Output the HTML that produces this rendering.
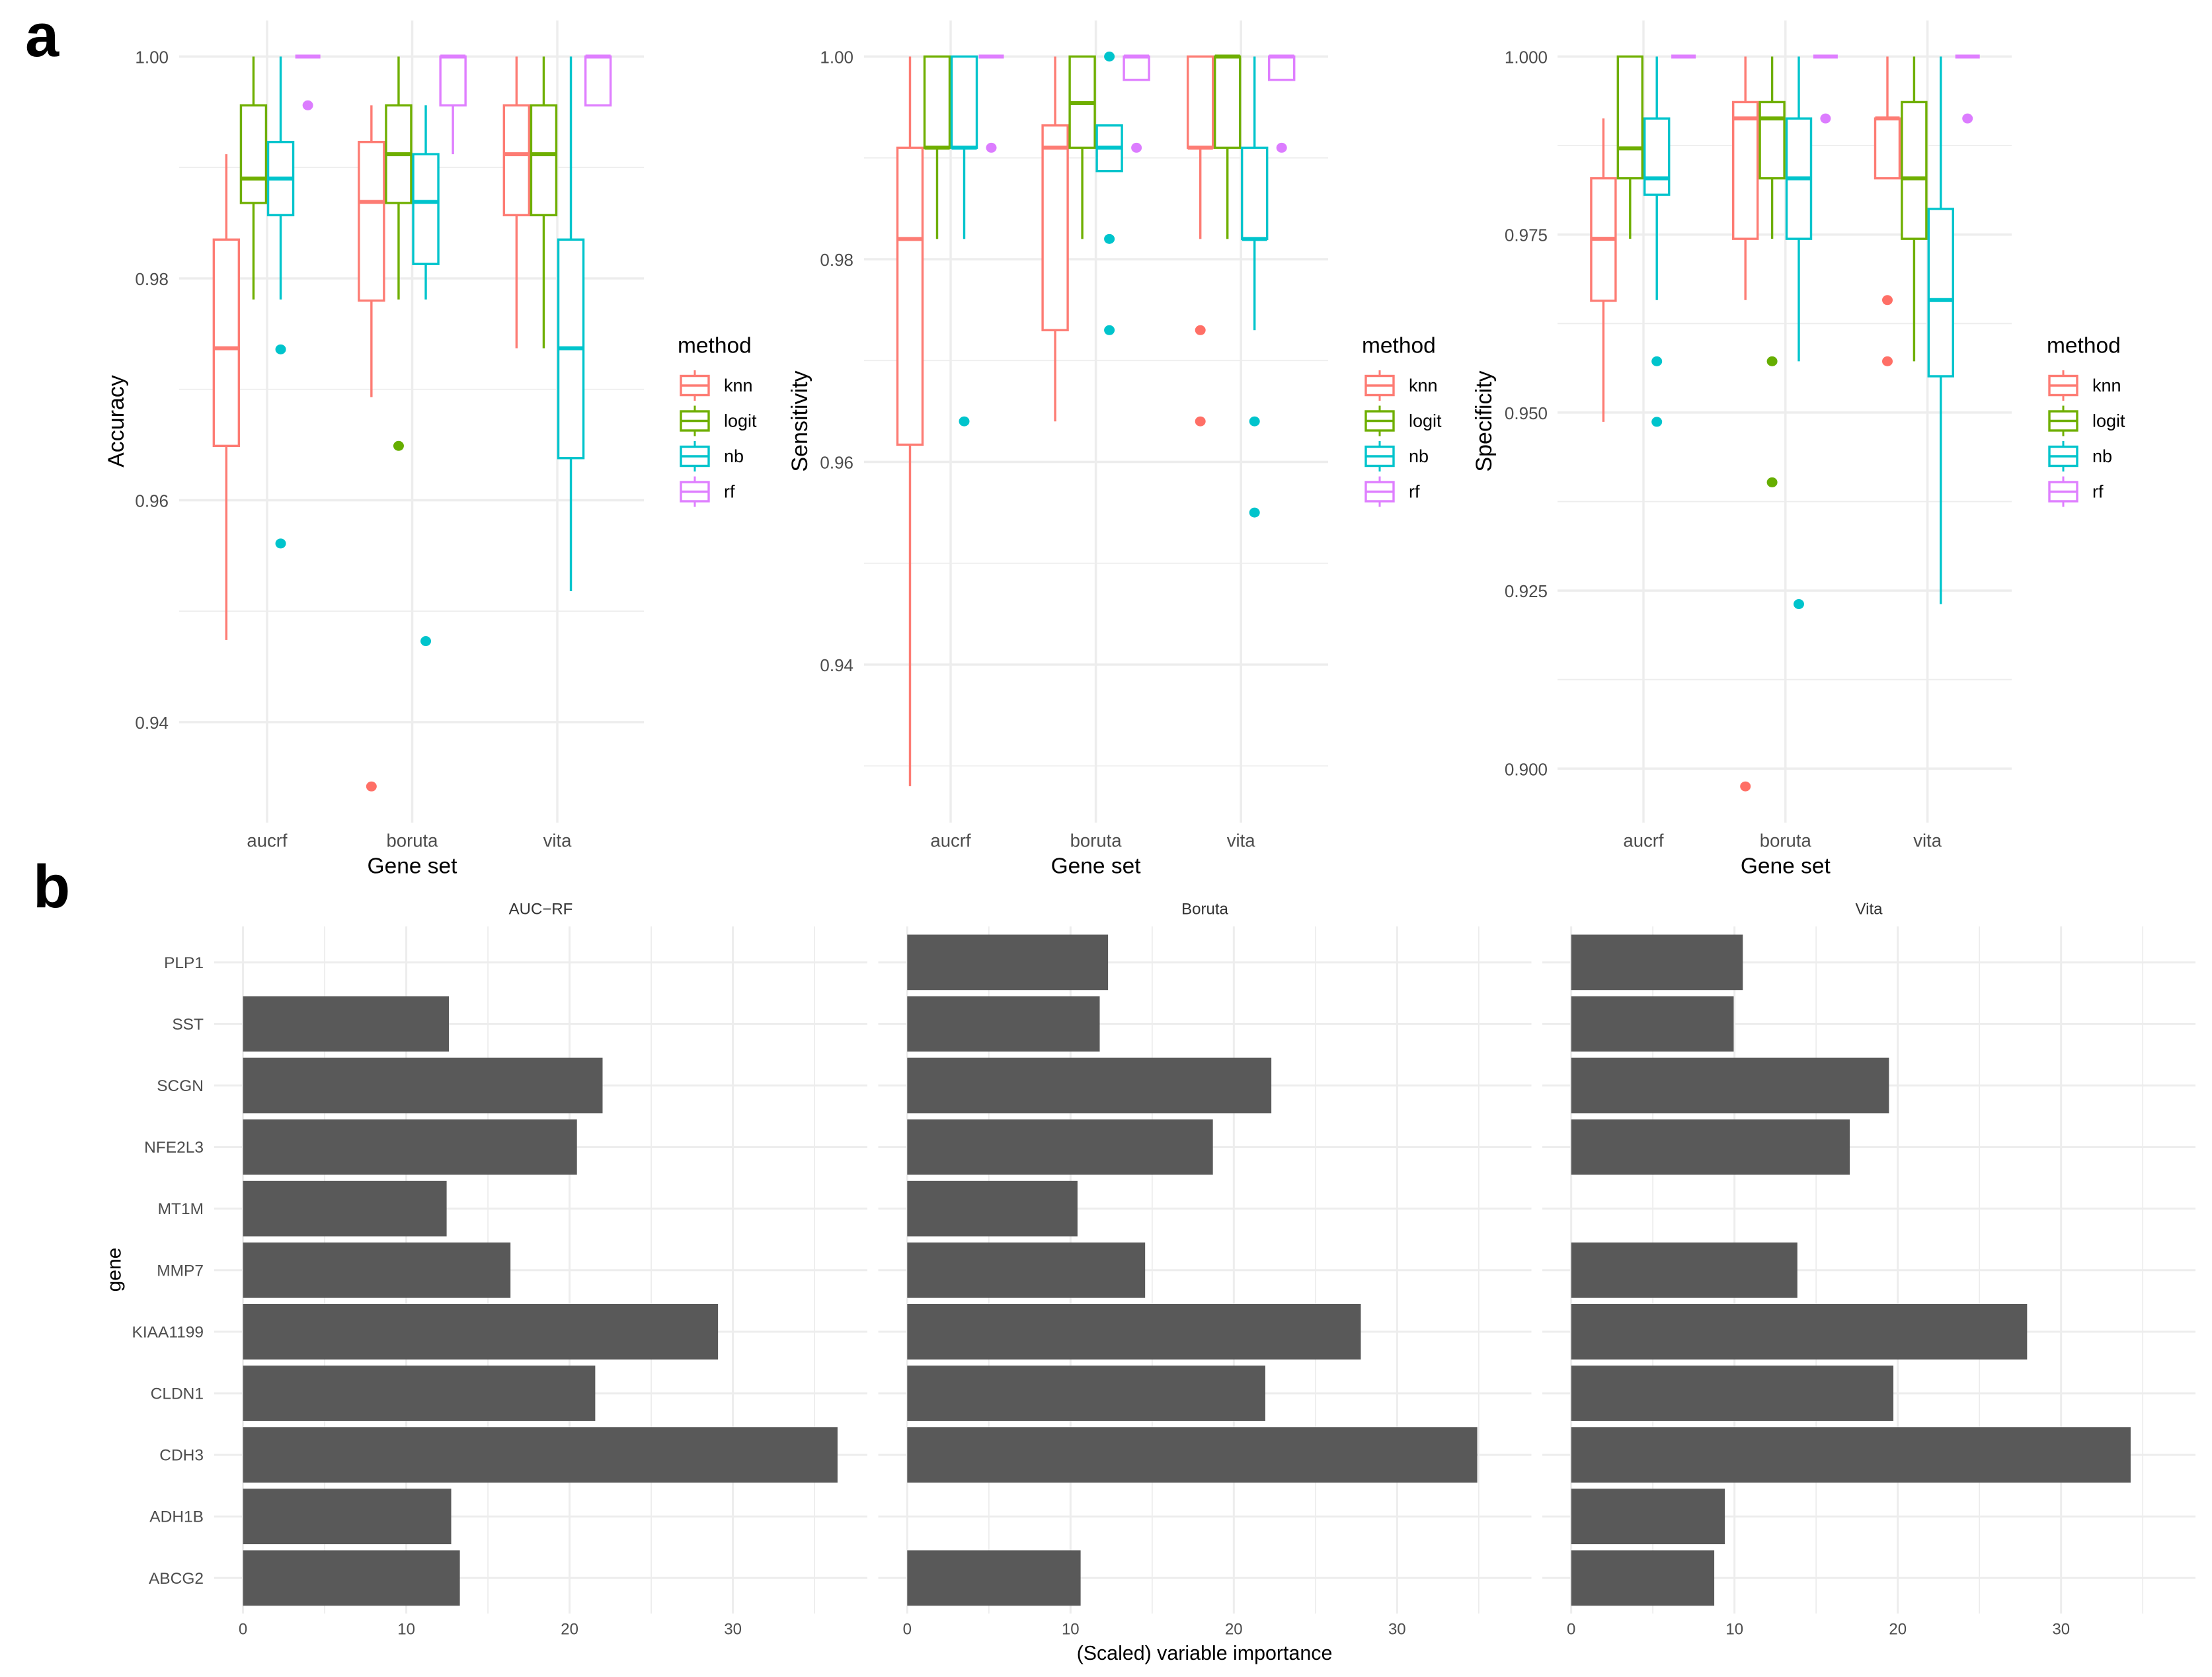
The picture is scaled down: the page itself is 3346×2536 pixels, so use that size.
<!DOCTYPE html>
<html lang="en">
<head>
<meta charset="utf-8">
<title>Gene set classifier performance and variable importance</title>
<style>
html,body{margin:0;padding:0;background:#fff;}
body{width:3346px;height:2536px;overflow:hidden;}
svg{display:block;font-family:"Liberation Sans",sans-serif;}
</style>
</head>
<body>
<svg id="figure" xmlns="http://www.w3.org/2000/svg" width="3346" height="2536" viewBox="0 0 3346 2536">
  <text x="38" y="85" font-size="92" font-weight="700" fill="#000">a</text>
  <text x="50" y="1372" font-size="92" font-weight="700" fill="#000">b</text>
</svg>
<script>
/* ---------- categories ---------- */
const methods = ['knn', 'logit', 'nb', 'rf'];
const geneSets = ['aucrf', 'boruta', 'vita'];
const genes = ['PLP1', 'SST', 'SCGN', 'NFE2L3', 'MT1M', 'MMP7', 'KIAA1199', 'CLDN1', 'CDH3', 'ADH1B', 'ABCG2'];

/* ---------- Accuracy: [low, q1, median, q3, high] per gene set ---------- */
const accuracyKnn = [[0.9474, 0.9649, 0.9737, 0.9835, 0.9912], [0.9693, 0.9780, 0.9869, 0.9923, 0.9956], [0.9737, 0.9857, 0.9912, 0.9956, 1]];
const accuracyLogit = [[0.9781, 0.9868, 0.9890, 0.9956, 1], [0.9781, 0.9868, 0.9912, 0.9956, 1], [0.9737, 0.9857, 0.9912, 0.9956, 1]];
const accuracyNb = [[0.9781, 0.9857, 0.9890, 0.9923, 1], [0.9781, 0.9813, 0.9869, 0.9912, 0.9956], [0.9518, 0.9638, 0.9737, 0.9835, 1]];
const accuracyRf = [[1, 1, 1, 1, 1], [0.9912, 0.9956, 1, 1, 1], [0.9956, 0.9956, 1, 1, 1]];
const accuracyKnnOut = [[], [0.9342], []];
const accuracyLogitOut = [[], [0.9649], []];
const accuracyNbOut = [[0.9736, 0.9561], [0.9473], []];
const accuracyRfOut = [[0.9956], [], []];
const accuracyTicks = [1.00, 0.98, 0.96, 0.94];
const accuracyTickLabels = ['1.00', '0.98', '0.96', '0.94'];
const accuracyMinor = [0.99, 0.97, 0.95];

/* ---------- Sensitivity ---------- */
const sensitivityKnn = [[0.9280, 0.9617, 0.9820, 0.9910, 1], [0.9640, 0.9730, 0.9910, 0.9932, 1], [0.9820, 0.9910, 0.9910, 1, 1]];
const sensitivityLogit = [[0.9820, 0.9910, 0.9910, 1, 1], [0.9820, 0.9910, 0.9954, 1, 1], [0.9820, 0.9910, 1, 1, 1]];
const sensitivityNb = [[0.9820, 0.9910, 0.9910, 1, 1], [0.9887, 0.9887, 0.9910, 0.9932, 0.9932], [0.9730, 0.9820, 0.9820, 0.9910, 1]];
const sensitivityRf = [[1, 1, 1, 1, 1], [0.9977, 0.9977, 1, 1, 1], [0.9977, 0.9977, 1, 1, 1]];
const sensitivityKnnOut = [[], [], [0.9730, 0.9640]];
const sensitivityLogitOut = [[], [], []];
const sensitivityNbOut = [[0.9640], [1, 0.9820, 0.9730], [0.9640, 0.9550]];
const sensitivityRfOut = [[0.9910], [0.9910], [0.9910]];
const sensitivityTicks = [1.00, 0.98, 0.96, 0.94];
const sensitivityTickLabels = ['1.00', '0.98', '0.96', '0.94'];
const sensitivityMinor = [0.99, 0.97, 0.95, 0.93];

/* ---------- Specificity ---------- */
const specificityKnn = [[0.9487, 0.9657, 0.9744, 0.9829, 0.9913], [0.9658, 0.9744, 0.9913, 0.9936, 1], [0.9829, 0.9829, 0.9913, 0.9913, 1]];
const specificityLogit = [[0.9744, 0.9829, 0.9871, 1, 1], [0.9744, 0.9829, 0.9913, 0.9936, 1], [0.9572, 0.9744, 0.9829, 0.9936, 1]];
const specificityNb = [[0.9658, 0.9806, 0.9829, 0.9913, 1], [0.9572, 0.9744, 0.9829, 0.9913, 1], [0.9231, 0.9551, 0.9658, 0.9786, 1]];
const specificityRf = [[1, 1, 1, 1, 1], [1, 1, 1, 1, 1], [1, 1, 1, 1, 1]];
const specificityKnnOut = [[], [0.8975], [0.9658, 0.9572]];
const specificityLogitOut = [[], [0.9572, 0.9402], []];
const specificityNbOut = [[0.9572, 0.9487], [0.9231], []];
const specificityRfOut = [[], [0.9913], [0.9913]];
const specificityTicks = [1.000, 0.975, 0.950, 0.925, 0.900];
const specificityTickLabels = ['1.000', '0.975', '0.950', '0.925', '0.900'];
const specificityMinor = [0.9875, 0.9625, 0.9375, 0.9125];

/* ---------- Variable importance (null = gene absent from set) ---------- */
const importanceAucRf = [null, 12.61, 22.02, 20.45, 12.47, 16.38, 29.09, 21.57, 36.41, 12.75, 13.28];
const importanceBoruta = [12.30, 11.79, 22.30, 18.72, 10.43, 14.57, 27.78, 21.93, 34.91, null, 10.62];
const importanceVita = [10.51, 9.95, 19.46, 17.06, null, 13.85, 27.92, 19.73, 34.26, 9.41, 8.76];
const importanceTicks = [0, 10, 20, 30];
const importanceTickLabels = ['0', '10', '20', '30'];
const importanceMinor = [5, 15, 25, 35];

/* ---------- styling and layout ---------- */
const methodColors = { knn: '#FD7C74', logit: '#6FAF00', nb: '#00C4CC', rf: '#DF7FFF' };
const dotColors = { knn: '#FF6F66', logit: '#66AE00', nb: '#00C4CC', rf: '#DC7CFF' };
const GRID = '#EDEDED';
const TICK = '#4D4D4D';
const SVGNS = 'http://www.w3.org/2000/svg';
const root = document.getElementById('figure');

function make(parent, tag, attrs) {
  const el = document.createElementNS(SVGNS, tag);
  for (const k in attrs) el.setAttribute(k, attrs[k]);
  parent.appendChild(el);
  return el;
}
function addLine(parent, x1, y1, x2, y2, color, width) {
  return make(parent, 'line', { x1: x1, y1: y1, x2: x2, y2: y2, stroke: color, 'stroke-width': width });
}
function addText(parent, str, x, y, size, color, anchor, rotate) {
  const attrs = { x: x, y: y, 'font-size': size, fill: color, 'text-anchor': anchor, 'dominant-baseline': 'central' };
  if (rotate) attrs.transform = 'rotate(-90 ' + x + ' ' + y + ')';
  const el = make(parent, 'text', attrs);
  el.textContent = str;
  return el;
}

/* ---------- boxplot panel ---------- */
function drawBoxPanel(cfg) {
  const g = make(root, 'g', {});
  
  
  const yAt = v => cfg.yOne + (1 - v) * cfg.pxPerUnit;
  const xAt = i => cfg.catStart + i * cfg.catStep;

  cfg.minor.forEach(function (v) {
    const el = addLine(g, cfg.left, yAt(v), cfg.right, yAt(v), GRID, 1.8);
    
    
  });
  cfg.ticks.forEach(function (v, i) {
    const el = addLine(g, cfg.left, yAt(v), cfg.right, yAt(v), GRID, 3.5);
    
    
    const lab = addText(g, cfg.tickLabels[i], cfg.tickRight, yAt(v) + 1, 26, TICK, 'end');
    
    
  });
  geneSets.forEach(function (name, i) {
    const el = addLine(g, xAt(i), cfg.top, xAt(i), cfg.bottom, GRID, 3.5);
    
    
    const lab = addText(g, name, xAt(i), 1271, 27.5, TICK, 'middle');
    
    
  });

  geneSets.forEach(function (name, gi) {
    methods.forEach(function (m, mi) {
      const color = methodColors[m];
      const cx = xAt(gi) + (mi - 1.5) * cfg.dodge;
      const s = cfg.series[mi][gi];
      const low = s[0], q1 = s[1], med = s[2], q3 = s[3], high = s[4];
      const box = make(g, 'g', {});
      
      
      addLine(box, cx, yAt(high), cx, yAt(q3), color, 3.4);
      addLine(box, cx, yAt(q1), cx, yAt(low), color, 3.4);
      make(box, 'rect', { x: cx - cfg.boxW / 2, y: yAt(q3), width: cfg.boxW, height: yAt(q1) - yAt(q3), fill: '#fff', stroke: color, 'stroke-width': 3.4 });
      addLine(box, cx - cfg.boxW / 2, yAt(med), cx + cfg.boxW / 2, yAt(med), color, 6);
      cfg.outliers[mi][gi].forEach(function (v) {
        const dot = make(g, 'ellipse', { cx: cx, cy: yAt(v), rx: 8, ry: 7.5, fill: dotColors[m] });
        
        
      });
    });
  });

  const yTitle = addText(g, cfg.title, cfg.titleX, 637, 34, '#000', 'middle', true);
  
  
  const xTitle = addText(g, 'Gene set', xAt(1), 1310, 33.5, '#000', 'middle');
  
  

  const legendTitle = addText(g, 'method', cfg.legendTitleX, 523, 33.5, '#000', 'start');
  
  
  methods.forEach(function (m, i) {
    const cy = 583 + i * 53.5;
    const color = methodColors[m];
    const entry = make(g, 'g', {});
    
    
    addLine(entry, cfg.keyX + 21, cy - 23, cfg.keyX + 21, cy + 23, color, 3);
    make(entry, 'rect', { x: cfg.keyX, y: cy - 14.5, width: 42, height: 29, fill: '#fff', stroke: color, 'stroke-width': 3.4 });
    addLine(entry, cfg.keyX, cy, cfg.keyX + 42, cy, color, 3.4);
    addText(entry, m, cfg.keyLabelX, cy, 27, '#000', 'start');
  });
}

drawBoxPanel({
  name: 'accuracy', title: 'Accuracy', left: 271, right: 974, top: 31, bottom: 1244,
  catStart: 404, catStep: 219.5, dodge: 41.1, boxW: 38, yOne: 85.5, pxPerUnit: 16775,
  tickRight: 255, titleX: 176, legendTitleX: 1025, keyX: 1030, keyLabelX: 1095,
  ticks: accuracyTicks, tickLabels: accuracyTickLabels, minor: accuracyMinor,
  series: [accuracyKnn, accuracyLogit, accuracyNb, accuracyRf],
  outliers: [accuracyKnnOut, accuracyLogitOut, accuracyNbOut, accuracyRfOut]
});
drawBoxPanel({
  name: 'sensitivity', title: 'Sensitivity', left: 1307, right: 2009, top: 31, bottom: 1244,
  catStart: 1438, catStep: 219.6, dodge: 41, boxW: 38, yOne: 85.5, pxPerUnit: 15325,
  tickRight: 1291, titleX: 1210, legendTitleX: 2060, keyX: 2066, keyLabelX: 2131,
  ticks: sensitivityTicks, tickLabels: sensitivityTickLabels, minor: sensitivityMinor,
  series: [sensitivityKnn, sensitivityLogit, sensitivityNb, sensitivityRf],
  outliers: [sensitivityKnnOut, sensitivityLogitOut, sensitivityNbOut, sensitivityRfOut]
});
drawBoxPanel({
  name: 'specificity', title: 'Specificity', left: 2356, right: 3043, top: 31, bottom: 1244,
  catStart: 2486, catStep: 214.8, dodge: 40.4, boxW: 37, yOne: 85.5, pxPerUnit: 10768,
  tickRight: 2341, titleX: 2245, legendTitleX: 3096, keyX: 3100, keyLabelX: 3165,
  ticks: specificityTicks, tickLabels: specificityTickLabels, minor: specificityMinor,
  series: [specificityKnn, specificityLogit, specificityNb, specificityRf],
  outliers: [specificityKnnOut, specificityLogitOut, specificityNbOut, specificityRfOut]
});

/* ---------- importance bar panels ---------- */
function drawBarPanel(cfg) {
  const g = make(root, 'g', {});
  
  
  const top = 1401, bottom = 2440, firstY = 1455.3, stepY = 93.1, barH = 83.8, pxPerUnit = 24.7;
  const xAt = v => cfg.x0 + v * pxPerUnit;
  const yAt = i => firstY + i * stepY;

  importanceMinor.forEach(function (v) {
    const el = addLine(g, xAt(v), top, xAt(v), bottom, GRID, 1.8);
    
    
  });
  importanceTicks.forEach(function (v, i) {
    const el = addLine(g, xAt(v), top, xAt(v), bottom, GRID, 3);
    
    
    const lab = addText(g, importanceTickLabels[i], xAt(v), 2464, 24, TICK, 'middle');
    
    
  });
  genes.forEach(function (name, i) {
    const el = addLine(g, cfg.left, yAt(i), cfg.left + 988, yAt(i), GRID, 3);
    
    
    if (cfg.showLabels) {
      const lab = addText(g, name, 308, yAt(i) + 1, 24.5, TICK, 'end');
      
      
    }
  });
  genes.forEach(function (name, i) {
    const v = cfg.values[i];
    if (v === null) return;
    const bar = make(g, 'rect', { x: xAt(0), y: yAt(i) - barH / 2, width: xAt(v) - xAt(0), height: barH, fill: '#595959' });
    
    
  });
  const strip = addText(g, cfg.strip, cfg.left + 494, 1375, 24, '#333', 'middle');
  
  
}
drawBarPanel({ name: 'auc-rf', strip: 'AUC\u2212RF', left: 324, x0: 367.6, values: importanceAucRf, showLabels: true });
drawBarPanel({ name: 'boruta', strip: 'Boruta', left: 1328.5, x0: 1372.3, values: importanceBoruta, showLabels: false });
drawBarPanel({ name: 'vita', strip: 'Vita', left: 2333, x0: 2376.7, values: importanceVita, showLabels: false });

const geneTitle = addText(root, 'gene', 173, 1920, 30, '#000', 'middle', true);


const importanceTitle = addText(root, '(Scaled) variable importance', 1822, 2500, 30.4, '#000', 'middle');


</script>
</body>
</html>
